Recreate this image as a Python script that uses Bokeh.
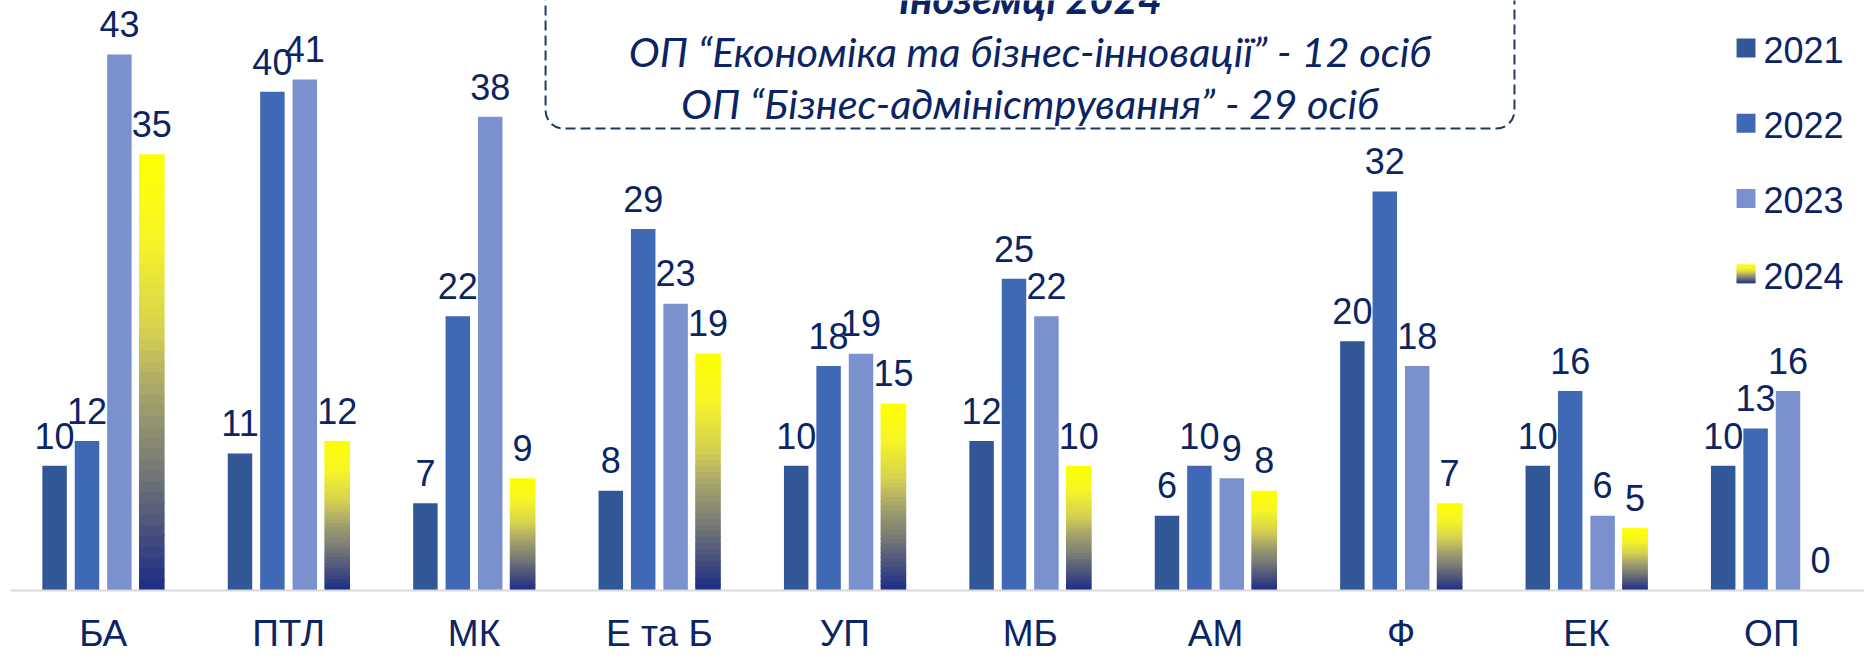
from bokeh.plotting import figure
from bokeh.models import Range1d, FactorRange, BoxAnnotation, Label, ColumnDataSource
from bokeh.transform import dodge
from bokeh.embed import file_html
from bokeh.resources import INLINE
from bokeh.core.properties import value

# ---- data ----
categories = ["БА", "ПТЛ", "МК", "Е та Б", "УП", "МБ", "АМ", "Ф", "ЕК", "ОП"]
years = ["2021", "2022", "2023", "2024"]
v2021 = [10, 11, 7, 8, 10, 12, 6, 20, 10, 10]
v2022 = [12, 40, 22, 29, 18, 25, 10, 32, 16, 13]
v2023 = [43, 41, 38, 23, 19, 22, 9, 18, 6, 16]
v2024 = [35, 12, 9, 19, 15, 10, 8, 7, 5, 0]
note_title = "Іноземці 2024"
note_lines = ["ОП “Економіка та бізнес-інновації” - 12 осіб",
              "ОП “Бізнес-адміністрування” - 29 осіб"]

# ---- styles ----
NAVY = "#0b2463"
COLORS = ["#325797", "#3f69b5", "#7a91cd"]
GRAD = [(0.0, (27, 45, 135)), (0.1, (60, 70, 128)), (0.2, (92, 98, 122)),
        (0.3, (125, 128, 116)), (0.4, (150, 150, 110)), (0.5, (182, 178, 100)),
        (0.6, (214, 210, 80)), (0.8, (246, 244, 40)), (1.0, (255, 255, 0))]


def grad_color(t):
    for (t0, c0), (t1, c1) in zip(GRAD[:-1], GRAD[1:]):
        if t <= t1:
            f = (t - t0) / (t1 - t0) if t1 > t0 else 0
            r, g, b = (round(a + (bb - a) * f) for a, bb in zip(c0, c1))
            return "#%02x%02x%02x" % (r, g, b)
    return "#ffff00"


PITCH = 0.1748
OFFS = [-1.5 * PITCH, -0.5 * PITCH, 0.5 * PITCH, 1.5 * PITCH]
FONT = "Liberation Sans"
LABEL_GAP = 2.43   # data units between bar top and label anchor
TXT_SHIFT = 0.87   # baseline correction (data units) for 36px text
BOX_SHIFT = 0.99   # baseline correction (data units) for the note text

p = figure(x_range=FactorRange(factors=categories, range_padding=0),
           y_range=Range1d(0, 47.33), width=1864, height=659,
           output_backend="svg", toolbar_location=None,
           min_border_left=10, min_border_right=0, min_border_top=0, min_border_bottom=69)
p.outline_line_color = None
p.xgrid.visible = False
p.ygrid.visible = False
p.yaxis.visible = False
p.background_fill_color = "white"
p.border_fill_color = "white"

ax = p.xaxis[0]
ax.axis_line_color = "#d9d9d9"
ax.axis_line_width = 2
ax.major_tick_line_color = None
ax.minor_tick_line_color = None
ax.major_tick_out = 0
ax.major_label_standoff = 22
ax.major_label_text_font = FONT
ax.major_label_text_font_size = "37px"
ax.major_label_text_color = NAVY

series = [v2021, v2022, v2023, v2024]
for i, vals in enumerate(series):
    src = ColumnDataSource(dict(cat=categories, val=vals, lab=[str(v) for v in vals]))
    xd = dodge("cat", OFFS[i], range=p.x_range)
    if i < 3:
        p.vbar(x=xd, top="val", width=0.132, source=src,
               fill_color=COLORS[i], line_color=None)
    else:
        N = 40
        cs, bs, ts, cols = [], [], [], []
        for c, v in zip(categories, vals):
            if v <= 0:
                continue
            for k in range(N):
                cs.append(c)
                bs.append(v * k / N)
                ts.append(min(v, v * (k + 1) / N + 0.08))
                cols.append(grad_color((k + 0.5) / N))
        gsrc = ColumnDataSource(dict(cat=cs, bottom=bs, top=ts, color=cols))
        p.vbar(x=dodge("cat", OFFS[i], range=p.x_range), bottom="bottom", top="top",
               width=0.138, source=gsrc, fill_color="color", line_color=None)
    p.text(x=xd, y=dodge("val", LABEL_GAP), text="lab", source=src, text_align="center",
           text_baseline="alphabetic",
           text_font=value(FONT), text_font_size="36px", text_color=NAVY)

# ---- note box ----
p.add_layout(BoxAnnotation(left=2.886, right=8.112, bottom=37.06, top=60,
                           fill_color=None, fill_alpha=0, line_color="#1f3864",
                           line_alpha=1, line_width=2,
                           line_dash="10 5", border_radius=18))
p.add_layout(Label(x=5.5, y=46.53 + BOX_SHIFT, text=note_title, text_align="center",
                   text_baseline="alphabetic", text_font="Lato",
                   text_font_style="bold italic", text_font_size="41.5px",
                   text_color=NAVY))
for line, yy in zip(note_lines, [42.28, 38.11]):
    p.add_layout(Label(x=5.5, y=yy + BOX_SHIFT, text=line, text_align="center",
                       text_baseline="alphabetic", text_font="Lato",
                       text_font_style="italic", text_font_size="41.5px",
                       text_color=NAVY))

# ---- legend (manual, to show the gradient swatch) ----
SQ_L, SQ_R = 9.310, 9.412
SQ_H = 1.524
ROW0_TOP = 44.28
ROW_STEP = 6.04
for i, yr in enumerate(years):
    top = ROW0_TOP - i * ROW_STEP
    bot = top - SQ_H
    if i < 3:
        p.add_layout(BoxAnnotation(left=SQ_L, right=SQ_R, bottom=bot, top=top,
                                   fill_color=COLORS[i], fill_alpha=1,
                                   line_color=None))
    else:
        M = 19
        for k in range(M):
            p.add_layout(BoxAnnotation(left=SQ_L, right=SQ_R,
                                       bottom=bot + SQ_H * k / M,
                                       top=min(top, bot + SQ_H * (k + 1) / M + 0.04),
                                       fill_color=grad_color((k + 0.5) / M), fill_alpha=1,
                                       line_color=None))
    p.add_layout(Label(x=9.455, y=bot - 0.24 + TXT_SHIFT, text=yr, text_align="left",
                       text_baseline="alphabetic", text_font=FONT,
                       text_font_size="36px", text_color=NAVY))

open("out.html", "w").write(file_html(p, INLINE))
